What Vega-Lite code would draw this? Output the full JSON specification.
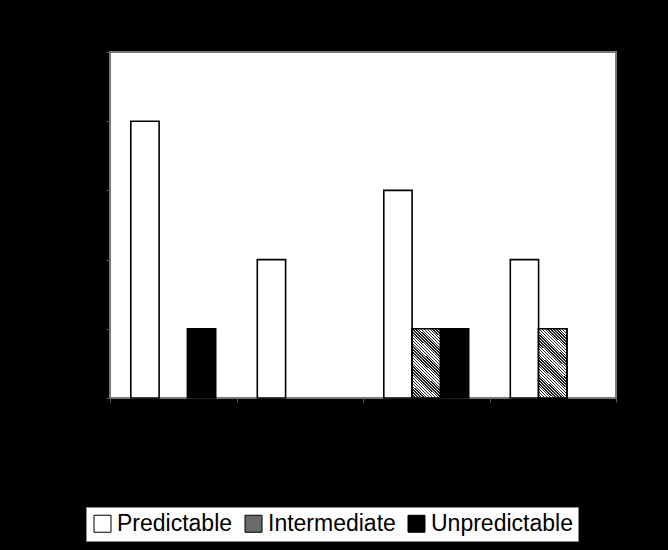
{
  "$schema": "https://vega.github.io/schema/vega-lite/v6.json",
  "width": 506,
  "height": 346,
  "autosize": {"type": "none"},
  "padding": {"left": 110, "top": 52, "right": 52, "bottom": 152},
  "background": "black",
  "view": {"fill": "white", "stroke": "#7a7a7a", "strokeWidth": 2},
  "data": {
    "values": [
      {"group": "G1", "series": "Predictable", "value": 4},
      {"group": "G1", "series": "Intermediate", "value": 0},
      {"group": "G1", "series": "Unpredictable", "value": 1},
      {"group": "G2", "series": "Predictable", "value": 2},
      {"group": "G2", "series": "Intermediate", "value": 0},
      {"group": "G2", "series": "Unpredictable", "value": 0},
      {"group": "G3", "series": "Predictable", "value": 3},
      {"group": "G3", "series": "Intermediate", "value": 1},
      {"group": "G3", "series": "Unpredictable", "value": 1},
      {"group": "G4", "series": "Predictable", "value": 2},
      {"group": "G4", "series": "Intermediate", "value": 1},
      {"group": "G4", "series": "Unpredictable", "value": 0}
    ]
  },
  "encoding": {
    "x": {
      "field": "group", "type": "nominal", "sort": null,
      "scale": {"paddingInner": 0, "paddingOuter": 0},
      "axis": {"title": null, "labels": false, "domain": false, "tickBand": "extent", "tickColor": "#555", "tickSize": 4, "tickWidth": 1}
    },
    "xOffset": {
      "field": "series", "type": "nominal",
      "scale": {"domain": ["Predictable", "Intermediate", "Unpredictable"], "paddingInner": 0, "paddingOuter": 0.735}
    },
    "y": {
      "field": "value", "type": "quantitative",
      "scale": {"domain": [0, 5], "nice": false},
      "axis": {"title": null, "labels": false, "domain": false, "grid": false, "values": [0, 1, 2, 3, 4, 5], "tickColor": "#555", "tickSize": 4, "tickWidth": 1}
    }
  },
  "layer": [
    {
      "transform": [{"filter": "datum.value > 0"}],
      "mark": {"type": "bar", "stroke": "black", "strokeWidth": 1.6},
      "encoding": {
        "fill": {
          "field": "series", "type": "nominal",
          "scale": {"domain": ["Predictable", "Intermediate", "Unpredictable"], "range": ["white", "#6a6a6a", "black"]},
          "legend": {
            "title": null,
            "orient": "none",
            "legendX": -24,
            "legendY": 455,
            "direction": "horizontal",
            "symbolType": "square",
            "symbolSize": 289,
            "symbolStrokeColor": "black",
            "symbolStrokeWidth": 1,
            "symbolOpacity": 1,
            "labelFont": "Liberation Sans",
            "labelFontSize": 23,
            "labelColor": "black",
            "labelOffset": 3,
            "columnPadding": 9,
            "padding": 5,
            "fillColor": "white",
            "strokeColor": "#888",
            "labelLimit": 300,
            "encode": {
              "symbols": {
                "update": {
                  "stroke": {"value": "black"},
                  "strokeWidth": {"value": 1},
                  "fill": {"signal": "(datum.label === 'Intermediate' || datum.value === 'Intermediate') ? {gradient: 'linear', x1: 0, y1: 1, x2: 1, y2: 0, stops: [{offset: 0, color: '#222'}, {offset: 0.0455, color: '#222'}, {offset: 0.0455, color: '#fff'}, {offset: 0.0909, color: '#fff'}, {offset: 0.0909, color: '#222'}, {offset: 0.1364, color: '#222'}, {offset: 0.1364, color: '#fff'}, {offset: 0.1818, color: '#fff'}, {offset: 0.1818, color: '#222'}, {offset: 0.2273, color: '#222'}, {offset: 0.2273, color: '#fff'}, {offset: 0.2727, color: '#fff'}, {offset: 0.2727, color: '#222'}, {offset: 0.3182, color: '#222'}, {offset: 0.3182, color: '#fff'}, {offset: 0.3636, color: '#fff'}, {offset: 0.3636, color: '#222'}, {offset: 0.4091, color: '#222'}, {offset: 0.4091, color: '#fff'}, {offset: 0.4545, color: '#fff'}, {offset: 0.4545, color: '#222'}, {offset: 0.5, color: '#222'}, {offset: 0.5, color: '#fff'}, {offset: 0.5455, color: '#fff'}, {offset: 0.5455, color: '#222'}, {offset: 0.5909, color: '#222'}, {offset: 0.5909, color: '#fff'}, {offset: 0.6364, color: '#fff'}, {offset: 0.6364, color: '#222'}, {offset: 0.6818, color: '#222'}, {offset: 0.6818, color: '#fff'}, {offset: 0.7273, color: '#fff'}, {offset: 0.7273, color: '#222'}, {offset: 0.7727, color: '#222'}, {offset: 0.7727, color: '#fff'}, {offset: 0.8182, color: '#fff'}, {offset: 0.8182, color: '#222'}, {offset: 0.8636, color: '#222'}, {offset: 0.8636, color: '#fff'}, {offset: 0.9091, color: '#fff'}, {offset: 0.9091, color: '#222'}, {offset: 0.9545, color: '#222'}, {offset: 0.9545, color: '#fff'}, {offset: 1, color: '#fff'}]} : ((datum.label === 'Predictable' || datum.value === 'Predictable') ? 'white' : 'black')"}
                }
              }
            }
          }
        }
      }
    },
    {
      "transform": [{"filter": "datum.value > 0 && datum.series === 'Intermediate'"}],
      "mark": {
        "type": "bar", "stroke": "black", "strokeWidth": 1.6,
        "fill": {
          "gradient": "linear", "x1": 0, "y1": 1, "x2": 0.49, "y2": -0.207,
          "stops": [
            {"offset": 0, "color": "#222"},
            {"offset": 0.0147, "color": "#222"}, {"offset": 0.0147, "color": "#fff"},
            {"offset": 0.0294, "color": "#fff"}, {"offset": 0.0294, "color": "#222"},
            {"offset": 0.0441, "color": "#222"}, {"offset": 0.0441, "color": "#fff"},
            {"offset": 0.0588, "color": "#fff"}, {"offset": 0.0588, "color": "#222"},
            {"offset": 0.0735, "color": "#222"}, {"offset": 0.0735, "color": "#fff"},
            {"offset": 0.0882, "color": "#fff"}, {"offset": 0.0882, "color": "#222"},
            {"offset": 0.1029, "color": "#222"}, {"offset": 0.1029, "color": "#fff"},
            {"offset": 0.1176, "color": "#fff"}, {"offset": 0.1176, "color": "#222"},
            {"offset": 0.1324, "color": "#222"}, {"offset": 0.1324, "color": "#fff"},
            {"offset": 0.1471, "color": "#fff"}, {"offset": 0.1471, "color": "#222"},
            {"offset": 0.1618, "color": "#222"}, {"offset": 0.1618, "color": "#fff"},
            {"offset": 0.1765, "color": "#fff"}, {"offset": 0.1765, "color": "#222"},
            {"offset": 0.1912, "color": "#222"}, {"offset": 0.1912, "color": "#fff"},
            {"offset": 0.2059, "color": "#fff"}, {"offset": 0.2059, "color": "#222"},
            {"offset": 0.2206, "color": "#222"}, {"offset": 0.2206, "color": "#fff"},
            {"offset": 0.2353, "color": "#fff"}, {"offset": 0.2353, "color": "#222"},
            {"offset": 0.25, "color": "#222"}, {"offset": 0.25, "color": "#fff"},
            {"offset": 0.2647, "color": "#fff"}, {"offset": 0.2647, "color": "#222"},
            {"offset": 0.2794, "color": "#222"}, {"offset": 0.2794, "color": "#fff"},
            {"offset": 0.2941, "color": "#fff"}, {"offset": 0.2941, "color": "#222"},
            {"offset": 0.3088, "color": "#222"}, {"offset": 0.3088, "color": "#fff"},
            {"offset": 0.3235, "color": "#fff"}, {"offset": 0.3235, "color": "#222"},
            {"offset": 0.3382, "color": "#222"}, {"offset": 0.3382, "color": "#fff"},
            {"offset": 0.3529, "color": "#fff"}, {"offset": 0.3529, "color": "#222"},
            {"offset": 0.3676, "color": "#222"}, {"offset": 0.3676, "color": "#fff"},
            {"offset": 0.3824, "color": "#fff"}, {"offset": 0.3824, "color": "#222"},
            {"offset": 0.3971, "color": "#222"}, {"offset": 0.3971, "color": "#fff"},
            {"offset": 0.4118, "color": "#fff"}, {"offset": 0.4118, "color": "#222"},
            {"offset": 0.4265, "color": "#222"}, {"offset": 0.4265, "color": "#fff"},
            {"offset": 0.4412, "color": "#fff"}, {"offset": 0.4412, "color": "#222"},
            {"offset": 0.4559, "color": "#222"}, {"offset": 0.4559, "color": "#fff"},
            {"offset": 0.4706, "color": "#fff"}, {"offset": 0.4706, "color": "#222"},
            {"offset": 0.4853, "color": "#222"}, {"offset": 0.4853, "color": "#fff"},
            {"offset": 0.5, "color": "#fff"}, {"offset": 0.5, "color": "#222"},
            {"offset": 0.5147, "color": "#222"}, {"offset": 0.5147, "color": "#fff"},
            {"offset": 0.5294, "color": "#fff"}, {"offset": 0.5294, "color": "#222"},
            {"offset": 0.5441, "color": "#222"}, {"offset": 0.5441, "color": "#fff"},
            {"offset": 0.5588, "color": "#fff"}, {"offset": 0.5588, "color": "#222"},
            {"offset": 0.5735, "color": "#222"}, {"offset": 0.5735, "color": "#fff"},
            {"offset": 0.5882, "color": "#fff"}, {"offset": 0.5882, "color": "#222"},
            {"offset": 0.6029, "color": "#222"}, {"offset": 0.6029, "color": "#fff"},
            {"offset": 0.6176, "color": "#fff"}, {"offset": 0.6176, "color": "#222"},
            {"offset": 0.6324, "color": "#222"}, {"offset": 0.6324, "color": "#fff"},
            {"offset": 0.6471, "color": "#fff"}, {"offset": 0.6471, "color": "#222"},
            {"offset": 0.6618, "color": "#222"}, {"offset": 0.6618, "color": "#fff"},
            {"offset": 0.6765, "color": "#fff"}, {"offset": 0.6765, "color": "#222"},
            {"offset": 0.6912, "color": "#222"}, {"offset": 0.6912, "color": "#fff"},
            {"offset": 0.7059, "color": "#fff"}, {"offset": 0.7059, "color": "#222"},
            {"offset": 0.7206, "color": "#222"}, {"offset": 0.7206, "color": "#fff"},
            {"offset": 0.7353, "color": "#fff"}, {"offset": 0.7353, "color": "#222"},
            {"offset": 0.75, "color": "#222"}, {"offset": 0.75, "color": "#fff"},
            {"offset": 0.7647, "color": "#fff"}, {"offset": 0.7647, "color": "#222"},
            {"offset": 0.7794, "color": "#222"}, {"offset": 0.7794, "color": "#fff"},
            {"offset": 0.7941, "color": "#fff"}, {"offset": 0.7941, "color": "#222"},
            {"offset": 0.8088, "color": "#222"}, {"offset": 0.8088, "color": "#fff"},
            {"offset": 0.8235, "color": "#fff"}, {"offset": 0.8235, "color": "#222"},
            {"offset": 0.8382, "color": "#222"}, {"offset": 0.8382, "color": "#fff"},
            {"offset": 0.8529, "color": "#fff"}, {"offset": 0.8529, "color": "#222"},
            {"offset": 0.8676, "color": "#222"}, {"offset": 0.8676, "color": "#fff"},
            {"offset": 0.8824, "color": "#fff"}, {"offset": 0.8824, "color": "#222"},
            {"offset": 0.8971, "color": "#222"}, {"offset": 0.8971, "color": "#fff"},
            {"offset": 0.9118, "color": "#fff"}, {"offset": 0.9118, "color": "#222"},
            {"offset": 0.9265, "color": "#222"}, {"offset": 0.9265, "color": "#fff"},
            {"offset": 0.9412, "color": "#fff"}, {"offset": 0.9412, "color": "#222"},
            {"offset": 0.9559, "color": "#222"}, {"offset": 0.9559, "color": "#fff"},
            {"offset": 0.9706, "color": "#fff"}, {"offset": 0.9706, "color": "#222"},
            {"offset": 0.9853, "color": "#222"}, {"offset": 0.9853, "color": "#fff"},
            {"offset": 1, "color": "#fff"}
          ]
        }
      },
      "encoding": {}
    }
  ]
}
